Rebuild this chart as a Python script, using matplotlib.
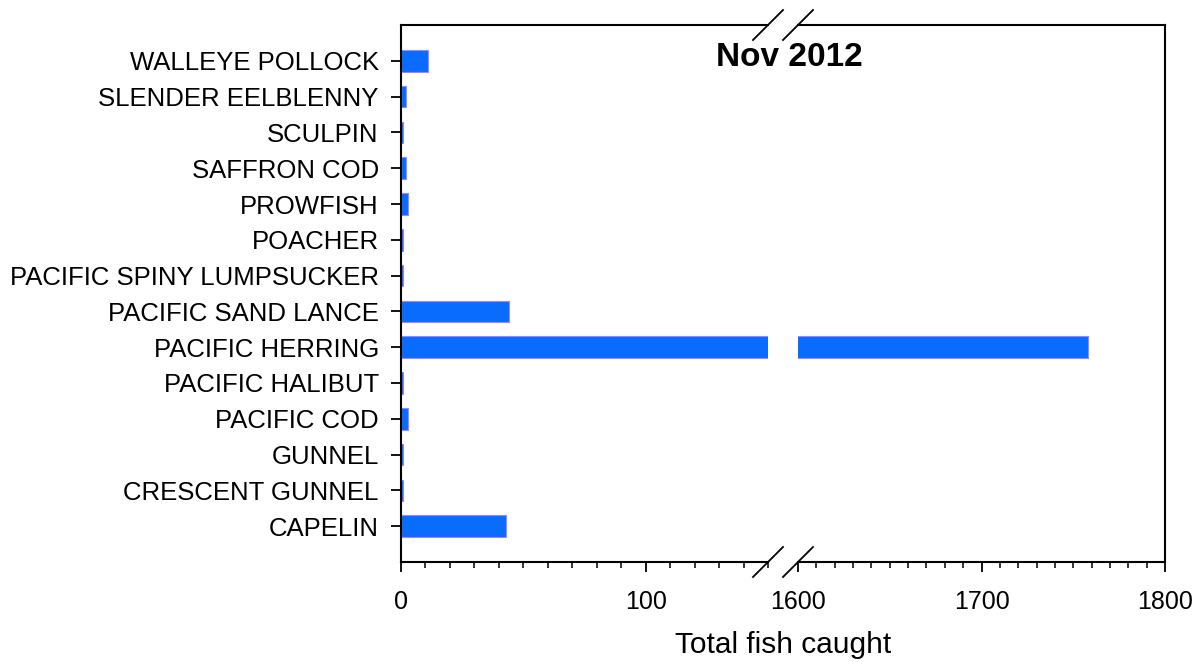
import matplotlib
matplotlib.use('Agg')
import matplotlib.pyplot as plt
from matplotlib.lines import Line2D
from matplotlib.ticker import MultipleLocator

plt.rcParams['font.family'] = ['Liberation Sans', 'DejaVu Sans']

species = ['CAPELIN', 'CRESCENT GUNNEL', 'GUNNEL', 'PACIFIC COD',
           'PACIFIC HALIBUT', 'PACIFIC HERRING', 'PACIFIC SAND LANCE',
           'PACIFIC SPINY LUMPSUCKER', 'POACHER', 'PROWFISH',
           'SAFFRON COD', 'SCULPIN', 'SLENDER EELBLENNY', 'WALLEYE POLLOCK']
caught = [43, 1, 1, 3, 1, 1758, 44, 1, 1, 3, 2, 1, 2, 11]

low_range = (0, 150)
high_range = (1600, 1800)
low_ticks = [0, 100]
high_ticks = [1600, 1700, 1800]

bar_color = '#0a6cff'
edge_color = '#9a86ff'

fig = plt.figure(figsize=(12.02, 6.66), dpi=100)
W, H = 1202, 666

def px_rect(x0, x1, y_top, y_bot):
    return [x0 / W, 1 - y_bot / H, (x1 - x0) / W, (y_bot - y_top) / H]

ax1 = fig.add_axes(px_rect(401, 768, 25, 562))
ax2 = fig.add_axes(px_rect(798, 1165, 25, 562))

ypos = list(range(len(species)))
for ax in (ax1, ax2):
    ax.barh(ypos, caught, height=0.6, color=bar_color,
            edgecolor=edge_color, linewidth=0.8)
    ax.set_ylim(-1, len(species))
    for s in ax.spines.values():
        s.set_linewidth(1.5)
    ax.xaxis.set_minor_locator(MultipleLocator(10))
    ax.tick_params(axis='x', which='major', direction='out', length=7,
                   width=1.3, labelsize=18, pad=13)
    ax.tick_params(axis='x', which='minor', direction='out', length=4,
                   width=1.1)
    ax.tick_params(axis='x', top=False, which='both')

ax1.set_xlim(*low_range)
ax1.set_xticks(low_ticks)
ax1.spines['right'].set_visible(False)
ax1.set_yticks(ypos)
ax1.set_yticklabels(species)
ax1.tick_params(axis='y', direction='out', length=7, width=1.3,
                labelsize=18.5, pad=9)

ax2.set_xlim(*high_range)
ax2.set_xticks(high_ticks)
ax2.spines['left'].set_visible(False)
ax2.set_yticks([])

# slanted break marks on the top and bottom spines
d = 15
for xb in (768, 798):
    for yb in (25, 562):
        fig.add_artist(Line2D([(xb - d) / W, (xb + d) / W],
                              [1 - (yb + d) / H, 1 - (yb - d) / H],
                              color='black', linewidth=1.3,
                              transform=fig.transFigure, clip_on=False))

fig.text(789 / W, 1 - 58 / H, 'Nov 2012', ha='center', va='center',
         fontsize=24, fontweight='bold')
fig.text(783 / W, 1 - 645 / H, 'Total fish caught', ha='center',
         va='center', fontsize=21.5)

fig.savefig('out.png', dpi=100)
